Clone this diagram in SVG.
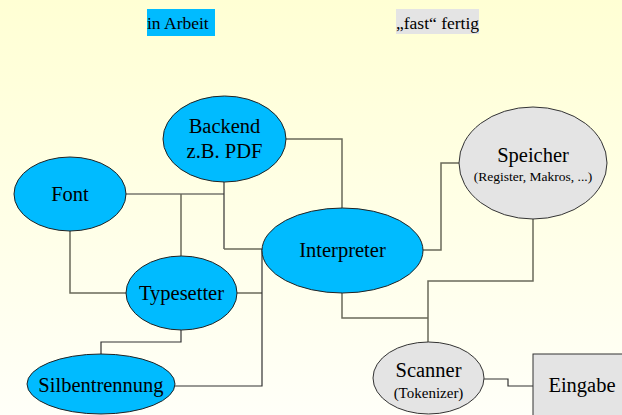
<svg xmlns="http://www.w3.org/2000/svg" width="622" height="415" viewBox="0 0 622 415">
<defs>
<linearGradient id="bg" x1="0" y1="0" x2="0" y2="1">
<stop offset="0" stop-color="#FFFFD4"/>
<stop offset="1" stop-color="#FFFFF8"/>
</linearGradient>
<style>
.blue{fill:#00BBFF;stroke:#222;stroke-width:1}
.grey{fill:#E4E4E4;stroke:#333;stroke-width:1}
text{fill:#000;text-anchor:middle}
.c{fill:none;stroke:#333;stroke-width:1.2}
.c2{fill:none;stroke:#6a6a5a;stroke-width:1.5}
</style>
</defs>
<rect width="622" height="415" fill="url(#bg)"/>
<g font-family="Liberation Serif, Times New Roman, serif" font-size="20.5">
<g id="legend">
<rect x="147" y="9" width="68" height="27" fill="#00BBFF"/>
<text x="147" y="29" font-size="17.5" text-anchor="start" style="text-anchor:start">in Arbeit</text>
<rect x="396" y="9" width="83" height="25" fill="#E4E4E4"/>
<text x="396" y="29" font-size="17.5" text-anchor="start" style="text-anchor:start">„fast“ fertig</text>
</g>
<g id="connectors">
<path class="c2" d="M286,139 H342 V208"/>
<path class="c" d="M126,194 H224"/>
<path class="c2" d="M181,194 V256"/>
<path class="c" d="M224,182 V249"/>
<path class="c2" d="M224,249 H262"/>
<path class="c2" d="M70,231 V293 H126"/>
<path class="c2" d="M237,293 H262"/>
<path class="c" d="M262,249 V386 H175"/>
<path class="c" d="M181,330 V342 H101 V354"/>
<path class="c2" d="M423,250 H441 V163 H459"/>
<path class="c2" d="M533,219 V281 H428 V342"/>
<path class="c2" d="M342,293 V318 H428"/>
<path class="c" d="M484,379 H508 V386 H533"/>
</g>
<g id="backend">
<ellipse class="blue" cx="224.5" cy="139" rx="61.5" ry="43"/>
<text x="224.5" y="133">Backend</text>
<text x="224.5" y="158">z.B. PDF</text>
</g>
<g id="font">
<ellipse class="blue" cx="70" cy="194" rx="56" ry="37"/>
<text x="70" y="201">Font</text>
</g>
<g id="interpreter">
<ellipse class="blue" cx="342.5" cy="250.5" rx="80.5" ry="42.5"/>
<text x="342.5" y="257">Interpreter</text>
</g>
<g id="speicher">
<ellipse class="grey" cx="533" cy="163" rx="74" ry="56"/>
<text x="533" y="162">Speicher</text>
<text x="533" y="181" font-size="13.5">(Register, Makros, ...)</text>
</g>
<g id="typesetter">
<ellipse class="blue" cx="181.5" cy="293" rx="55.5" ry="37"/>
<text x="181.5" y="300">Typesetter</text>
</g>
<g id="silbentrennung">
<ellipse class="blue" cx="101" cy="384" rx="74" ry="30"/>
<text x="101" y="392">Silbentrennung</text>
</g>
<g id="scanner">
<ellipse class="grey" cx="428.5" cy="378" rx="55.5" ry="36"/>
<text x="428.5" y="377">Scanner</text>
<text x="428.5" y="398" font-size="15">(Tokenizer)</text>
</g>
<g id="eingabe">
<rect class="grey" x="533" y="354" width="100" height="70"/>
<text x="582" y="392">Eingabe</text>
</g>
</g>
</svg>
